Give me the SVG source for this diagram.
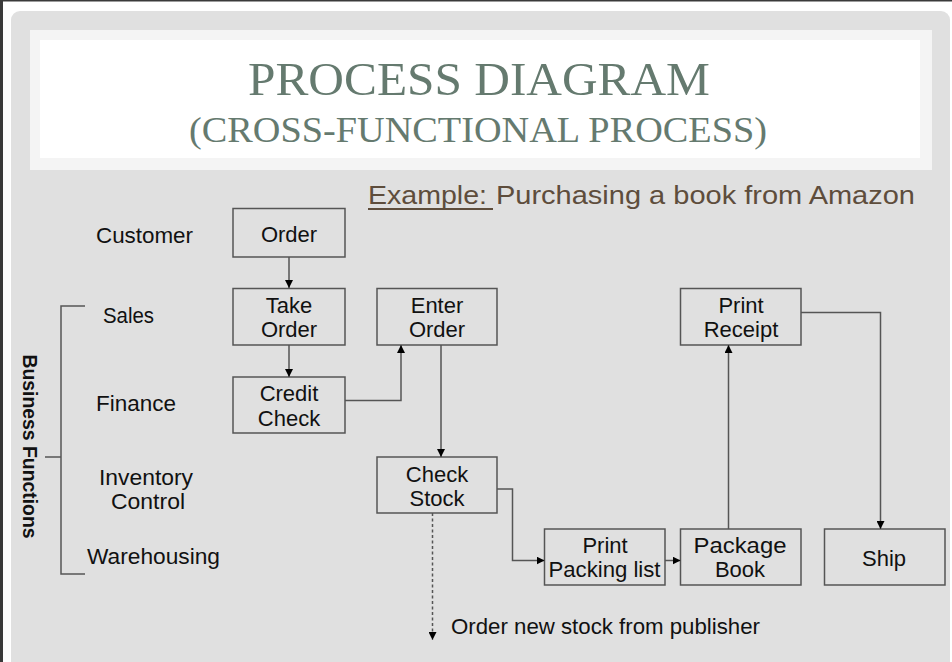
<svg xmlns="http://www.w3.org/2000/svg" width="952" height="662" viewBox="0 0 952 662">
<defs>
<style>
.title{font-family:"Liberation Serif","Times New Roman",serif;fill:#657a6f;}
.lbl{font-family:"Liberation Sans",Arial,sans-serif;font-size:22px;fill:#111;}
.ctr{text-anchor:middle;}
.box{fill:none;stroke:#555;stroke-width:1.5;}
.con{fill:none;stroke:#555;stroke-width:1.5;}
.ex{font-family:"Liberation Sans",Arial,sans-serif;font-size:25px;fill:#5e4d3c;}
</style>
<marker id="ah" viewBox="0 0 10 10" refX="10" refY="5" markerWidth="8" markerHeight="8" markerUnits="userSpaceOnUse" orient="auto">
<path d="M0,0 L10,5 L0,10 z" fill="#000"/>
</marker>
</defs>

<!-- frame / slide background -->
<rect x="0" y="0" width="952" height="662" fill="#ffffff"/>
<rect x="0" y="0" width="952" height="1.5" fill="#3a3a3a"/>
<rect x="0" y="0" width="3" height="662" fill="#3a3a3a"/>
<rect x="11" y="11" width="939" height="700" rx="9" fill="#e0e0e0"/>
<rect x="30" y="30" width="902" height="140" fill="#f4f4f4"/>
<rect x="40" y="40" width="880" height="118" fill="#ffffff"/>

<!-- title -->
<g id="title">
<text class="title" x="248" y="95" font-size="47" textLength="462" lengthAdjust="spacingAndGlyphs">PROCESS DIAGRAM</text>
<text class="title" x="189" y="142" font-size="36" textLength="578" lengthAdjust="spacingAndGlyphs">(CROSS-FUNCTIONAL PROCESS)</text>
</g>

<g id="example">
<text class="ex" x="368" y="204" textLength="119" lengthAdjust="spacingAndGlyphs">Example:</text>
<line x1="368" y1="209" x2="493" y2="209" stroke="#5e4d3c" stroke-width="1.8"/>
<text class="ex" x="496" y="204" textLength="419" lengthAdjust="spacingAndGlyphs">Purchasing a book from Amazon</text>
</g>

<!-- lane labels -->
<g id="lanes">
<text class="lbl" x="96" y="243" textLength="97" lengthAdjust="spacingAndGlyphs">Customer</text>
<text class="lbl" x="103" y="323" textLength="51" lengthAdjust="spacingAndGlyphs">Sales</text>
<text class="lbl" x="96" y="411" textLength="80" lengthAdjust="spacingAndGlyphs">Finance</text>
<text class="lbl" x="99" y="485" textLength="94" lengthAdjust="spacingAndGlyphs">Inventory</text>
<text class="lbl" x="111" y="509" textLength="74" lengthAdjust="spacingAndGlyphs">Control</text>
<text class="lbl" x="87" y="564" textLength="133" lengthAdjust="spacingAndGlyphs">Warehousing</text>
</g>

<g id="business-functions">
<path class="con" d="M85,306 H61 V574 H85 M45,457 H61" stroke="#333" stroke-width="1.3"/>
<text x="0" y="0" transform="translate(23,446.5) rotate(90)" font-family="'Liberation Sans',Arial,sans-serif" font-weight="bold" font-size="20" fill="#111" text-anchor="middle" textLength="184" lengthAdjust="spacingAndGlyphs">Business Functions</text>
</g>

<!-- nodes -->
<g id="order">
<rect class="box" x="233" y="208.5" width="112" height="48.5"/>
<text class="lbl ctr" x="289" y="242">Order</text>
</g>
<g id="take-order">
<rect class="box" x="233" y="288.5" width="112" height="56.5"/>
<text class="lbl ctr" x="289" y="313">Take</text>
<text class="lbl ctr" x="289" y="337">Order</text>
</g>
<g id="credit-check">
<rect class="box" x="233" y="377" width="112" height="56"/>
<text class="lbl ctr" x="289" y="401">Credit</text>
<text class="lbl ctr" x="289" y="426">Check</text>
</g>
<g id="enter-order">
<rect class="box" x="377" y="288.5" width="120" height="56.5"/>
<text class="lbl ctr" x="437" y="313">Enter</text>
<text class="lbl ctr" x="437" y="337">Order</text>
</g>
<g id="check-stock">
<rect class="box" x="377" y="457" width="120" height="56"/>
<text class="lbl ctr" x="437" y="482">Check</text>
<text class="lbl ctr" x="437" y="506">Stock</text>
</g>
<g id="print-packing-list">
<rect class="box" x="544.5" y="529" width="120.5" height="56"/>
<text class="lbl ctr" x="605" y="553">Print</text>
<text class="lbl ctr" x="604.5" y="577" textLength="112" lengthAdjust="spacingAndGlyphs">Packing list</text>
</g>
<g id="package-book">
<rect class="box" x="680.5" y="529" width="120.5" height="56"/>
<text class="lbl ctr" x="740" y="553" textLength="93" lengthAdjust="spacingAndGlyphs">Package</text>
<text class="lbl ctr" x="740" y="577">Book</text>
</g>
<g id="print-receipt">
<rect class="box" x="680.5" y="288.5" width="120.5" height="56.5"/>
<text class="lbl ctr" x="741" y="313">Print</text>
<text class="lbl ctr" x="741" y="337">Receipt</text>
</g>
<g id="ship">
<rect class="box" x="824.5" y="529" width="120.5" height="56"/>
<text class="lbl ctr" x="884" y="566">Ship</text>
</g>
<g id="order-new-stock">
<text class="lbl" x="451" y="634" textLength="309" lengthAdjust="spacingAndGlyphs">Order new stock from publisher</text>
</g>

<!-- connectors -->
<g id="connectors">
<path class="con" d="M289,257 V288" marker-end="url(#ah)"/>
<path class="con" d="M289,345 V377" marker-end="url(#ah)"/>
<path class="con" d="M345,400.5 H401 V345" marker-end="url(#ah)"/>
<path class="con" d="M441,345 V457" marker-end="url(#ah)"/>
<path class="con" d="M497,489 H512.5 V560.5 H544.5" marker-end="url(#ah)"/>
<path class="con" d="M665,560.5 H680.5" marker-end="url(#ah)"/>
<path class="con" d="M728.5,529 V345" marker-end="url(#ah)"/>
<path class="con" d="M801,312.5 H880.5 V529" marker-end="url(#ah)"/>
<path class="con" d="M432.5,513 V640" stroke-dasharray="3,2.5" marker-end="url(#ah)"/>
</g>
</svg>
